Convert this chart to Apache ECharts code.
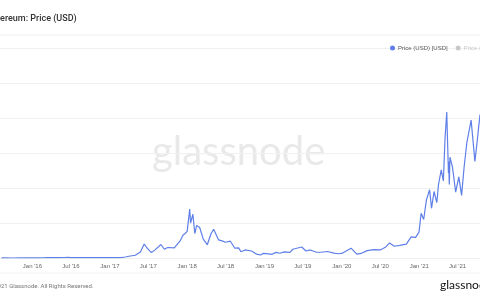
<!DOCTYPE html>
<html>
<head>
<meta charset="utf-8">
<script src="https://cdn.jsdelivr.net/npm/echarts@6/dist/echarts.min.js"></script>
<style>
  html, body { margin: 0; padding: 0; background: #fff; }
  #main { width: 480px; height: 300px; }
</style>
</head>
<body>
<div id="main"></div>
<script>
  // ETH price (USD)
  var dates = [
    '2015-08-08', '2015-09-01', '2015-10-01', '2015-11-01', '2015-12-01',
    '2016-01-01', '2016-02-01', '2016-03-01', '2016-03-13', '2016-04-01', '2016-05-01', '2016-06-01', '2016-06-17', '2016-06-20',
    '2016-07-01', '2016-08-01', '2016-09-01', '2016-10-01', '2016-11-01', '2016-12-01',
    '2017-01-01', '2017-02-01', '2017-03-01', '2017-03-15', '2017-04-01', '2017-05-01', '2017-05-25', '2017-06-12', '2017-06-26',
    '2017-07-16', '2017-08-01', '2017-08-30', '2017-09-15', '2017-10-01', '2017-11-01', '2017-11-28', '2017-12-12', '2017-12-22',
    '2018-01-01', '2018-01-13', '2018-01-17', '2018-01-28', '2018-02-06', '2018-02-15', '2018-03-01', '2018-03-18', '2018-04-06',
    '2018-04-24', '2018-05-06', '2018-05-29', '2018-06-15', '2018-07-01', '2018-07-24', '2018-08-14', '2018-09-01', '2018-09-12',
    '2018-10-01', '2018-11-01', '2018-11-25', '2018-12-14', '2018-12-25',
    '2019-01-10', '2019-02-06', '2019-02-24', '2019-03-15', '2019-04-05', '2019-05-01', '2019-05-15', '2019-06-26', '2019-07-16',
    '2019-08-05', '2019-09-01', '2019-09-24', '2019-10-25', '2019-11-25', '2019-12-17',
    '2020-01-01', '2020-02-14', '2020-03-12', '2020-03-16', '2020-04-01', '2020-04-30', '2020-06-01', '2020-07-01', '2020-07-25',
    '2020-08-14', '2020-09-05', '2020-10-01', '2020-11-01', '2020-11-24', '2020-12-15', '2020-12-31',
    '2021-01-10', '2021-01-22', '2021-02-04', '2021-02-19', '2021-02-28', '2021-03-12', '2021-03-25', '2021-04-02', '2021-04-15',
    '2021-04-25', '2021-05-03', '2021-05-11', '2021-05-14', '2021-05-19', '2021-05-20', '2021-05-23', '2021-05-26', '2021-06-07',
    '2021-06-22', '2021-07-07', '2021-07-20', '2021-08-01', '2021-08-14', '2021-08-20', '2021-09-03', '2021-09-21', '2021-10-01',
    '2021-10-15'
  ];
  var prices = [
    0.75, 1.3, 0.7, 1.0, 0.87,
    0.95, 2.5, 8, 15, 11.5, 8.8, 14, 20, 11,
    12.5, 11, 12, 13, 11, 8.5,
    8, 10.7, 16, 28, 50, 78, 170, 400, 280,
    155, 225, 385, 250, 300, 290, 480, 650, 700,
    760, 1400, 1000, 1250, 700, 930, 870, 540, 380,
    700, 820, 520, 490, 450, 480, 280, 290, 180,
    230, 200, 110, 85, 130,
    125, 105, 160, 135, 175, 160, 250, 315, 200,
    230, 170, 165, 185, 140, 122,
    130, 280, 110, 110, 130, 210, 240, 230, 305,
    430, 335, 360, 395, 605, 590, 738,
    1280, 1100, 1660, 1950, 1420, 1900, 1580, 2100, 2520,
    2200, 3430, 4170, 3500, 2430, 2750, 2100, 2880, 2600,
    1880, 2320, 1790, 2600, 3300, 3280, 3940, 2760, 3300,
    4100
  ];
  var tickDates = ['2016-01-01', '2016-07-01', '2017-01-01', '2017-07-01', '2018-01-01', '2018-07-01',
    '2019-01-01', '2019-07-01', '2020-01-01', '2020-07-01', '2021-01-01', '2021-07-01'];
  var months = ['Jan', 'Feb', 'Mar', 'Apr', 'May', 'Jun', 'Jul', 'Aug', 'Sep', 'Oct', 'Nov', 'Dec'];

  function ts(s) {
    var p = s.split('-');
    return Date.UTC(+p[0], +p[1] - 1, +p[2]);
  }

  var chart = echarts.init(document.getElementById('main'));

  var seriesData = dates.map(function (d, i) { return [ts(d), prices[i]]; });
  var tickValues = tickDates.map(ts);

  chart.setOption({
    animation: false,
    legend: {
      orient: 'horizontal',
      left: 385,
      top: 40,
      width: 300,
      itemWidth: 5,
      itemHeight: 5,
      itemGap: 8,
      icon: 'circle',
      inactiveColor: '#c8c8c8',
      textStyle: { fontSize: 6, color: '#555', padding: [0, 0, 0, -2] },
      data: ['Price (USD) [USD]', 'Price (USD) [BTC]'],
      selected: { 'Price (USD) [BTC]': false }
    },
    grid: { left: 0, right: 0, top: 48, bottom: 42 },
    xAxis: {
      type: 'value',
      min: ts('2015-08-01'),
      max: ts('2021-10-15'),
      axisLine: { show: true, lineStyle: { color: '#eeeeee' } },
      axisTick: { show: false },
      splitLine: { show: false },
      axisLabel: {
        customValues: tickValues,
        fontSize: 6,
        color: '#666',
        margin: 5,
        formatter: function (v) {
          var d = new Date(v);
          return months[d.getUTCMonth()] + " '" + String(d.getUTCFullYear()).slice(2);
        }
      }
    },
    yAxis: {
      type: 'value',
      min: 0,
      max: 6000,
      interval: 1000,
      axisLabel: { show: false },
      axisLine: { show: false },
      axisTick: { show: false },
      splitLine: { lineStyle: { color: '#f1f1f1' } }
    },
    series: [
      {
        name: 'Price (USD) [USD]',
        type: 'line',
        data: seriesData,
        showSymbol: false,
        color: '#5f7fe8',
        lineStyle: { width: 1.2, color: '#5f7fe8' }
      },
      {
        name: 'Price (USD) [BTC]',
        type: 'line',
        data: [],
        color: '#888'
      }
    ],
    graphic: [
      { type: 'text', left: -13, top: 14, style: { text: 'Ethereum: Price (USD)', fontSize: 9, fontWeight: 500, fill: '#333', fontFamily: 'Roboto' } },
      { type: 'line', shape: { x1: 0, y1: 35, x2: 480, y2: 35 }, style: { stroke: '#eeeeee', lineWidth: 1 } },
      { type: 'line', shape: { x1: 0, y1: 273, x2: 480, y2: 273 }, style: { stroke: '#f2f2f2', lineWidth: 1 } },
      { type: 'text', left: -12, top: 283, style: { text: '\u00a9 2021 Glassnode. All Rights Reserved.', fontSize: 6, fill: '#777', fontFamily: 'Roboto' } },
      { type: 'text', z: -1, left: 152, top: 132, style: { text: 'glassnode', fontSize: 40, fill: '#e9e9e9', fontFamily: 'Lato' } },
      { type: 'text', left: 440, top: 279, style: { text: 'glassnode', fontSize: 12, fill: '#111', fontFamily: 'Lato' } }
    ]
  });
</script>
</body>
</html>
